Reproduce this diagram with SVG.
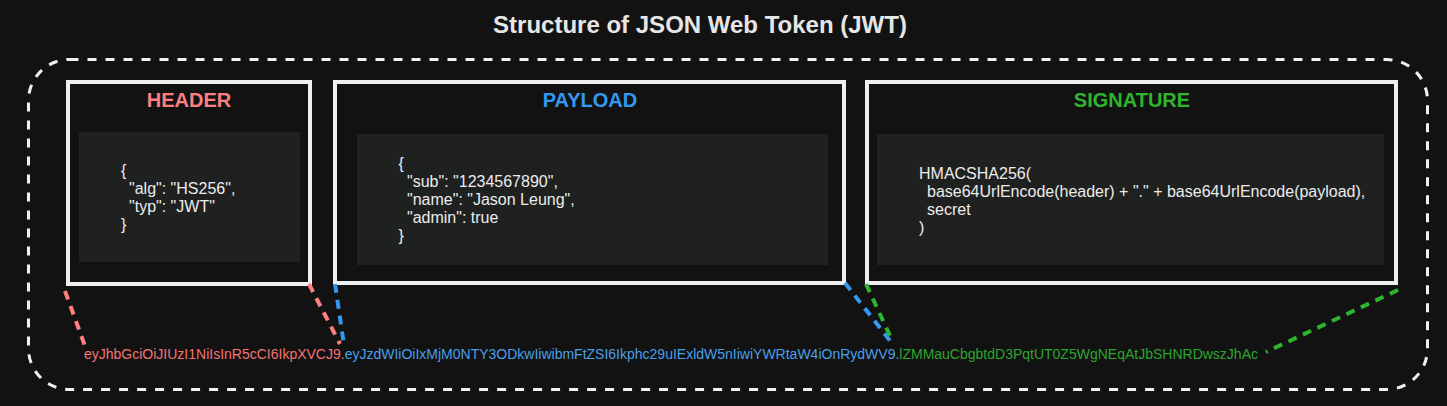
<svg xmlns="http://www.w3.org/2000/svg" width="1447" height="406" viewBox="0 0 1447 406">
  <style>
    .title { font-family: "Liberation Sans", Arial, sans-serif; font-size: 24px; font-weight: bold; fill: #e6e6e6; }
    .sect { font-family: "Liberation Sans", Arial, sans-serif; font-size: 20px; font-weight: bold; text-anchor: middle; }
    .code { font-family: "Liberation Sans", Arial, sans-serif; font-size: 16px; fill: #ececec; }
    .tok { font-family: "Liberation Sans", Arial, sans-serif; font-size: 14px; }
    .box { fill: #121212; stroke: #efefef; stroke-width: 4; }
    .inner { fill: #1f2121; stroke: none; }
    .conn { fill: none; stroke-width: 4; stroke-dasharray: 9 7; }
  </style>
  <rect x="0" y="0" width="1447" height="406" fill="#121212"/>
  <text class="title" x="700" y="33" text-anchor="middle">Structure of JSON Web Token (JWT)</text>
  <rect id="container" x="28.5" y="59.5" width="1399" height="330" rx="41" ry="41" fill="none" stroke="#f0f0f0" stroke-width="3" stroke-dasharray="9 9"/>

  <g id="header">
    <rect class="box" x="68" y="82" width="242" height="202"/>
    <text class="sect" x="189" y="107" fill="#ff7f7f">HEADER</text>
    <rect class="inner" x="79" y="132" width="221" height="130"/>
    <text class="code" x="121" y="176">{</text>
    <text class="code" x="129" y="194">"alg": "HS256",</text>
    <text class="code" x="129" y="212">"typ": "JWT"</text>
    <text class="code" x="121" y="230">}</text>
  </g>

  <g id="payload">
    <rect class="box" x="335" y="82" width="509" height="201"/>
    <text class="sect" x="590" y="107" fill="#3399f0">PAYLOAD</text>
    <rect class="inner" x="357" y="134" width="471" height="131"/>
    <text class="code" x="398.5" y="169">{</text>
    <text class="code" x="407" y="187">"sub": "1234567890",</text>
    <text class="code" x="407" y="205">"name": "Jason Leung",</text>
    <text class="code" x="407" y="223">"admin": true</text>
    <text class="code" x="398.5" y="241">}</text>
  </g>

  <g id="signature">
    <rect class="box" x="867" y="82" width="529" height="201"/>
    <text class="sect" x="1132" y="107" fill="#2db52d">SIGNATURE</text>
    <rect class="inner" x="877" y="134" width="507" height="131"/>
    <text class="code" x="919" y="179">HMACSHA256(</text>
    <text class="code" x="927" y="197">base64UrlEncode(header) + "." + base64UrlEncode(payload),</text>
    <text class="code" x="927" y="215">secret</text>
    <text class="code" x="919" y="233">)</text>
  </g>

  <g id="token">
    <text class="tok" x="84" y="359"><tspan fill="#f57373">eyJhbGciOiJIUzI1NiIsInR5cCI6IkpXVCJ9.</tspan><tspan fill="#4a9fe6">eyJzdWIiOiIxMjM0NTY3ODkwIiwibmFtZSI6Ikphc29uIExldW5nIiwiYWRtaW4iOnRydWV9.</tspan><tspan fill="#2ea52e">lZMMauCbgbtdD3PqtUT0Z5WgNEqAtJbSHNRDwszJhAc</tspan></text>
  </g>

  <g id="connectors">
    <line class="conn" x1="65" y1="291" x2="85" y2="346" stroke="#ff7f7f"/>
    <line class="conn" x1="309" y1="284" x2="340" y2="344" stroke="#ff7f7f"/>
    <line class="conn" x1="335" y1="284" x2="344" y2="345" stroke="#3399f0"/>
    <line class="conn" x1="845" y1="283" x2="891" y2="342" stroke="#3399f0"/>
    <line class="conn" x1="866" y1="284" x2="892" y2="340" stroke="#2db52d"/>
    <line class="conn" x1="1398" y1="290" x2="1266" y2="352" stroke="#2db52d"/>
  </g>
</svg>
